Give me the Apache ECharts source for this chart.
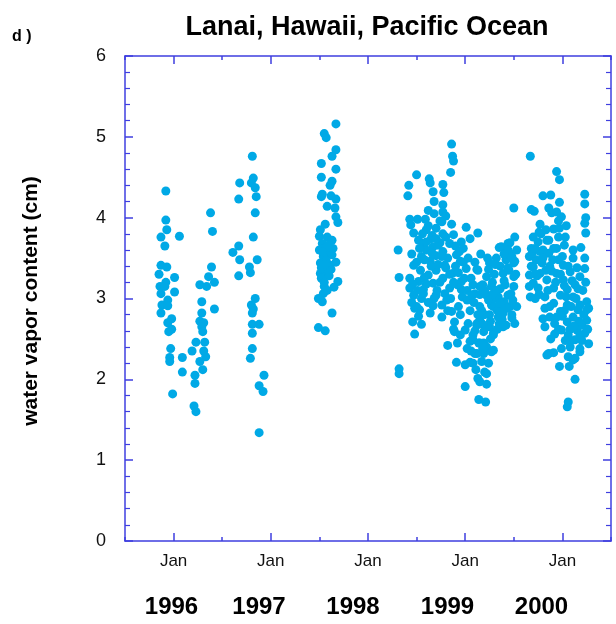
<!DOCTYPE html>
<html>
<head>
<meta charset="utf-8">
<script src="https://cdn.jsdelivr.net/npm/echarts@6/dist/echarts.min.js"></script>
<style>
html,body{margin:0;padding:0;background:#fff;}
#chart{width:616px;height:624px;}
</style>
</head>
<body>
<div id="chart"></div>
<script>
// ---- data: [decimal year, water vapor content (cm)] ----
const campaign1996a = [[1995.92,4.33],[1995.92,3.97],[1995.93,3.85],[1995.87,3.76],[1996.06,3.77],[1995.91,3.65],[1995.87,3.41],[1995.93,3.39],[1995.85,3.30],[1996.01,3.26],[1995.92,3.20],[1995.86,3.15],[1995.91,3.15],[1995.87,3.06],[1996.01,3.08],[1995.94,2.98],[1995.88,2.92],[1995.94,2.91],[1995.87,2.82],[1995.98,2.75],[1995.94,2.70],[1995.98,2.62],[1995.95,2.59],[1995.97,2.38],[1995.96,2.27],[1995.96,2.22],[1996.09,2.27],[1996.09,2.09],[1995.99,1.82]];
const campaign1996b = [[1996.38,4.06],[1996.40,3.83],[1996.39,3.39],[1996.36,3.27],[1996.42,3.20],[1996.27,3.17],[1996.34,3.15],[1996.29,2.96],[1996.42,2.87],[1996.29,2.82],[1996.27,2.72],[1996.31,2.70],[1996.29,2.65],[1996.30,2.59],[1996.23,2.46],[1996.32,2.46],[1996.19,2.35],[1996.31,2.35],[1996.33,2.28],[1996.27,2.22],[1996.30,2.12],[1996.22,2.05],[1996.22,1.95],[1996.21,1.67],[1996.23,1.60]];
const campaign1996c = [[1996.81,4.76],[1996.68,4.43],[1996.82,4.49],[1996.80,4.43],[1996.84,4.37],[1996.85,4.26],[1996.67,4.23],[1996.84,4.06],[1996.82,3.76],[1996.67,3.65],[1996.61,3.57],[1996.68,3.48],[1996.86,3.48],[1996.78,3.39],[1996.79,3.32],[1996.67,3.28],[1996.84,3.00],[1996.80,2.92],[1996.82,2.87],[1996.81,2.82],[1996.81,2.68],[1996.88,2.68],[1996.81,2.57],[1996.81,2.38],[1996.79,2.26],[1996.93,2.05],[1996.88,1.92],[1996.92,1.85],[1996.88,1.34]];
const campaign1997 = [[1997.67,5.16],[1997.55,5.04],[1997.57,4.99],[1997.67,4.84],[1997.63,4.76],[1997.52,4.67],[1997.67,4.60],[1997.52,4.50],[1997.63,4.45],[1997.61,4.40],[1997.53,4.29],[1997.52,4.26],[1997.62,4.27],[1997.67,4.23],[1997.58,4.14],[1997.66,4.12],[1997.67,4.01],[1997.69,3.94],[1997.56,3.92],[1997.51,3.85],[1997.50,3.77],[1997.58,3.76],[1997.63,3.72],[1997.53,3.68],[1997.64,3.62],[1997.50,3.60],[1997.58,3.56],[1997.54,3.52],[1997.63,3.54],[1997.67,3.45],[1997.51,3.44],[1997.61,3.41],[1997.56,3.35],[1997.51,3.31],[1997.59,3.30],[1997.52,3.25],[1997.69,3.21],[1997.65,3.14],[1997.55,3.15],[1997.54,3.06],[1997.49,3.00],[1997.53,2.96],[1997.63,2.82],[1997.49,2.64],[1997.56,2.60],[1997.54,3.62],[1997.57,3.47],[1997.52,3.38],[1997.60,3.28],[1997.55,3.20],[1997.58,3.10],[1997.53,3.58],[1997.62,3.36],[1997.56,3.42],[1997.59,3.66]];
const campaign1998 = [[1998.31,3.60],[1998.32,3.26],[1998.32,2.13],[1998.32,2.07],[1998.86,4.91],[1998.87,4.76],[1998.88,4.70],[1998.85,4.56],[1998.50,4.53],[1998.63,4.48],[1998.42,4.40],[1998.64,4.43],[1998.77,4.41],[1998.67,4.32],[1998.78,4.31],[1998.41,4.27],[1998.68,4.20],[1998.77,4.16],[1998.62,4.09],[1998.68,4.05],[1998.77,4.07],[1998.43,3.98],[1998.51,3.98],[1998.59,3.98],[1998.76,3.95],[1998.86,3.92],[1998.44,3.91],[1999.01,3.88],[1998.60,3.85],[1998.70,3.87],[1998.47,3.81],[1999.13,3.81],[1998.77,3.80],[1998.88,3.79],[1998.65,3.74],[1999.05,3.74],[1998.52,3.72],[1998.57,3.68],[1998.74,3.69],[1998.96,3.70],[1998.84,3.68],[1998.67,3.64],[1998.98,3.62],[1998.60,3.60],[1998.77,3.58],[1998.55,3.52],[1998.70,3.53],[1998.91,3.54],[1998.64,3.46],[1998.95,3.46],[1998.47,3.41],[1998.79,3.41],[1999.01,3.37],[1998.54,3.35],[1998.70,3.35],[1998.87,3.31],[1998.62,3.29],[1998.43,3.25],[1998.77,3.25],[1998.96,3.21],[1998.52,3.21],[1998.67,3.19],[1998.43,3.13],[1998.57,3.11],[1998.84,3.13],[1998.96,3.11],[1998.47,3.04],[1998.70,3.04],[1998.55,3.00],[1998.81,2.98],[1998.50,2.90],[1998.67,2.91],[1998.93,2.90],[1998.57,3.06],[1998.79,3.06],[1998.53,2.86],[1998.48,2.88],[1998.82,2.85],[1998.76,2.77],[1998.95,2.80],[1998.89,2.71],[1998.46,2.71],[1998.55,2.68],[1998.48,2.56],[1998.89,2.59],[1998.82,2.42],[1998.92,2.45],[1998.91,2.21],[1999.00,1.91],[1998.72,3.42],[1998.60,3.70],[1998.82,3.50],[1998.74,3.20],[1998.66,3.56],[1998.90,3.40],[1998.58,3.26],[1998.80,3.76],[1998.71,3.10],[1998.62,2.95],[1998.85,3.00],[1998.92,3.17],[1998.45,3.55],[1998.50,3.45],[1998.53,3.62],[1998.56,3.80],[1998.62,3.90],[1998.66,3.78],[1998.72,3.66],[1998.76,3.52],[1998.80,3.38],[1998.84,3.30],[1998.88,3.20],[1998.93,3.32],[1998.98,3.45],[1998.65,3.40],[1998.58,3.48],[1998.70,3.74],[1998.74,3.96],[1998.80,4.02],[1998.90,3.65],[1998.94,3.58],[1998.99,3.25],[1998.46,3.18],[1998.51,3.10],[1998.60,3.18],[1998.68,3.00],[1998.76,2.92],[1998.86,2.84],[1998.64,2.82],[1998.52,2.78],[1998.97,3.02],[1998.45,2.95],[1998.88,2.62],[1998.95,2.55],[1999.02,3.10],[1999.03,3.50]];
const campaign1999 = [[1999.00,2.61],[1999.08,2.55],[1999.03,2.69],[1999.12,2.69],[1999.22,2.65],[1999.29,2.57],[1999.05,2.47],[1999.14,2.45],[1999.02,2.38],[1999.22,2.40],[1999.10,2.32],[1999.19,2.32],[1999.27,2.34],[1999.00,2.18],[1999.08,2.20],[1999.17,2.22],[1999.24,2.20],[1999.22,2.07],[1999.13,2.01],[1999.15,1.97],[1999.22,1.94],[1999.14,1.75],[1999.21,1.72],[1999.05,2.21],[1999.15,2.45],[1999.29,2.55],[1999.19,2.59],[1999.15,2.73],[1999.25,2.80],[1999.35,2.69],[1999.42,2.67],[1999.51,2.69],[1999.39,2.82],[1999.48,2.80],[1999.29,2.90],[1999.46,2.90],[1999.13,3.35],[1999.25,3.44],[1999.37,3.64],[1999.44,3.68],[1999.46,3.56],[1999.32,3.50],[1999.50,3.44],[1999.22,3.27],[1999.39,3.31],[1999.50,3.27],[1999.15,3.15],[1999.27,3.15],[1999.41,3.17],[1999.50,3.15],[1999.10,3.06],[1999.22,3.04],[1999.34,3.02],[1999.44,3.04],[1999.53,2.90],[1999.15,2.90],[1999.27,2.92],[1999.39,2.88],[1999.20,2.80],[1999.34,2.77],[1999.48,2.76],[1999.12,2.67],[1999.25,2.65],[1999.39,2.65],[1999.08,2.49],[1999.19,2.45],[1999.29,2.36],[1999.12,2.32],[1999.20,2.09],[1999.51,3.76],[1999.46,3.69],[1999.44,3.60],[1999.50,4.12],[1999.12,3.36],[1999.51,3.46],[1999.35,3.63],[1999.18,3.17],[1999.31,3.00],[1999.08,3.17],[1999.07,3.04],[1999.30,3.30],[1999.36,3.40],[1999.42,3.48],[1999.28,3.20],[1999.40,2.96],[1999.17,2.85],[1999.33,2.85],[1999.45,3.35],[1999.24,3.36],[1999.05,2.85],[1999.10,2.60],[1999.36,3.12],[1999.02,2.98],[1999.06,3.25],[1999.10,3.45],[1999.16,3.55],[1999.20,3.10],[1999.24,2.98],[1999.28,3.05],[1999.32,3.10],[1999.36,2.94],[1999.40,3.22],[1999.44,3.38],[1999.48,3.52],[1999.52,3.30],[1999.47,3.06],[1999.43,2.88],[1999.38,2.74],[1999.33,2.62],[1999.26,2.72],[1999.18,2.68],[1999.13,2.80],[1999.09,2.95],[1999.31,3.42],[1999.40,3.55],[1999.23,3.50],[1999.15,3.05],[1999.26,2.50],[1999.18,2.38],[1999.11,2.12],[1999.06,2.35],[1999.49,2.98],[1999.53,3.60]];
const campaign2000 = [[1999.67,4.76],[1999.94,4.57],[1999.97,4.47],[1999.80,4.27],[1999.88,4.28],[2000.23,4.29],[1999.97,4.19],[2000.23,4.17],[1999.68,4.10],[1999.71,4.08],[1999.89,4.06],[1999.94,4.07],[1999.99,4.01],[2000.24,4.00],[2000.23,3.93],[1999.77,3.92],[1999.83,3.85],[1999.91,3.86],[1999.97,3.87],[2000.24,3.81],[1999.70,3.76],[1999.96,3.76],[2000.03,3.76],[1999.75,3.70],[1999.84,3.72],[2000.02,3.66],[1999.68,3.62],[1999.91,3.62],[2000.11,3.60],[2000.19,3.63],[1999.77,3.58],[1999.86,3.56],[2000.23,3.50],[1999.66,3.52],[2000.11,3.50],[1999.96,3.48],[1999.79,3.44],[2000.01,3.41],[1999.70,3.39],[1999.87,3.40],[2000.15,3.38],[2000.23,3.37],[1999.66,3.29],[1999.77,3.31],[1999.94,3.31],[2000.08,3.33],[2000.18,3.27],[1999.84,3.23],[2000.01,3.23],[1999.70,3.19],[1999.66,3.15],[2000.13,3.17],[1999.75,3.13],[1999.91,3.13],[2000.05,3.11],[1999.72,3.00],[1999.82,3.02],[1999.98,3.04],[2000.11,3.02],[2000.25,2.96],[1999.91,2.94],[2000.05,2.92],[2000.27,2.88],[1999.82,2.88],[1999.98,2.84],[2000.16,2.86],[1999.87,2.77],[2000.11,2.77],[2000.25,2.73],[2000.05,2.71],[1999.92,2.69],[2000.20,2.67],[1999.82,2.65],[1999.99,2.61],[2000.15,2.61],[2000.23,2.57],[1999.92,2.56],[2000.06,2.55],[2000.13,2.49],[2000.27,2.44],[1999.99,2.38],[2000.08,2.40],[1999.86,2.32],[1999.91,2.33],[2000.18,2.34],[2000.06,2.28],[2000.13,2.26],[1999.97,2.16],[2000.07,2.16],[2000.13,2.00],[2000.06,1.72],[2000.05,1.66],[1999.84,2.30],[2000.08,2.47],[2000.18,2.38],[2000.11,2.24],[2000.18,2.55],[2000.25,2.86],[1999.94,2.77],[1999.87,2.90],[1999.73,3.48],[1999.80,3.60],[1999.89,3.34],[1999.93,3.20],[2000.04,3.02],[2000.09,2.90],[1999.74,3.28],[1999.85,3.10],[2000.00,3.52],[2000.16,3.12],[2000.02,2.85],[1999.78,3.80],[1999.69,3.56],[1999.68,3.40],[1999.72,3.62],[1999.76,3.82],[1999.80,3.50],[1999.83,3.35],[1999.86,3.72],[1999.90,3.48],[1999.94,3.62],[1999.98,3.30],[2000.02,3.16],[2000.06,3.40],[2000.10,3.22],[2000.14,3.00],[2000.18,2.92],[2000.21,3.10],[2000.24,3.20],[2000.22,2.80],[2000.17,2.72],[2000.12,2.66],[2000.08,2.62],[2000.03,2.48],[1999.96,2.62],[1999.88,2.50],[1999.80,2.75],[1999.76,3.05],[1999.72,3.30],[1999.67,3.02],[1999.96,3.96],[2000.04,3.90],[1999.86,4.12],[2000.00,2.78],[2000.20,2.48],[2000.26,2.62]];

const janTicks = [1996, 1997, 1998, 1999, 2000];
const julTicks = [1995.5, 1996.5, 1997.5, 1998.5, 1999.5, 2000.5];
const janLabel = 'Jan';
const yearLabels = ['1996', '1997', '1998', '1999', '2000'];
const titleText = 'Lanai, Hawaii, Pacific Ocean';
const panelLabel = 'd )';
const yTitle = 'water vapor content (cm)';

const allPoints = [].concat(campaign1996a, campaign1996b, campaign1996c, campaign1997, campaign1998, campaign1999, campaign2000);

const axisColor = '#3f3fe0';
const font = 'Liberation Sans, Arial, Helvetica, sans-serif';
const xBase = {type: 'value', min: 1995.5, max: 2000.5, interval: 0.5, splitLine: {show: false}};
const yearX = [171.5, 259, 353, 447.5, 541.5];

const chart = echarts.init(document.getElementById('chart'), null, {renderer: 'canvas'});
chart.setOption({
  animation: false,
  backgroundColor: '#ffffff',
  grid: {left: 125, top: 56, width: 486, height: 485, outerBoundsMode: 'none'},
  title: {
    text: titleText, left: 362, top: 9, textAlign: 'center',
    textStyle: {fontFamily: font, fontWeight: 'bold', fontSize: 27, color: '#000'}
  },
  xAxis: [
    Object.assign({}, xBase, {
      position: 'bottom',
      axisLine: {show: true, onZero: false, lineStyle: {color: axisColor, width: 1.5}},
      axisTick: {show: true, inside: true, length: 8, customValues: janTicks, lineStyle: {color: axisColor, width: 1.5}},
      axisLabel: {show: true, customValues: janTicks, formatter: () => janLabel, margin: 12, fontFamily: font, fontSize: 17, color: '#111'}
    }),
    Object.assign({}, xBase, {
      position: 'bottom',
      axisLine: {show: false, onZero: false},
      axisTick: {show: true, inside: true, length: 4, customValues: julTicks, lineStyle: {color: axisColor, width: 1.5}},
      axisLabel: {show: false}
    }),
    Object.assign({}, xBase, {
      position: 'top',
      axisLine: {show: true, onZero: false, lineStyle: {color: axisColor, width: 1.5}},
      axisTick: {show: true, inside: true, length: 8, customValues: janTicks, lineStyle: {color: axisColor, width: 1.5}},
      axisLabel: {show: false}
    }),
    Object.assign({}, xBase, {
      position: 'top',
      axisLine: {show: false, onZero: false},
      axisTick: {show: true, inside: true, length: 4, customValues: julTicks, lineStyle: {color: axisColor, width: 1.5}},
      axisLabel: {show: false}
    })
  ],
  yAxis: [
    {
      type: 'value', min: 0, max: 6, interval: 1, position: 'left',
      axisLine: {show: true, onZero: false, lineStyle: {color: axisColor, width: 1.5}},
      axisTick: {show: true, inside: true, length: 8, lineStyle: {color: axisColor, width: 1.5}},
      minorTick: {show: true, splitNumber: 5, length: 5, lineStyle: {color: axisColor, width: 1.2}},
      axisLabel: {show: true, margin: 19, fontFamily: font, fontSize: 18, color: '#111'},
      splitLine: {show: false}, minorSplitLine: {show: false}
    },
    {
      type: 'value', min: 0, max: 6, interval: 1, position: 'right',
      axisLine: {show: true, onZero: false, lineStyle: {color: axisColor, width: 1.5}},
      axisTick: {show: true, inside: true, length: 8, lineStyle: {color: axisColor, width: 1.5}},
      minorTick: {show: true, splitNumber: 5, length: 5, lineStyle: {color: axisColor, width: 1.2}},
      axisLabel: {show: false},
      splitLine: {show: false}, minorSplitLine: {show: false}
    }
  ],
  graphic: [
    {type: 'text', left: 12, top: 29, style: {text: panelLabel, font: 'bold 16px ' + font, fill: '#000'}},
    {type: 'text', x: 31, y: 301, rotation: Math.PI / 2,
      style: {text: yTitle, font: 'bold 21px ' + font, fill: '#000', align: 'center', verticalAlign: 'middle'}}
  ].concat(yearLabels.map((t, i) => ({
    type: 'text', x: yearX[i], y: 607,
    style: {text: t, font: 'bold 24px ' + font, fill: '#000', align: 'center', verticalAlign: 'middle'}
  }))),
  series: [{
    type: 'scatter',
    xAxisIndex: 0, yAxisIndex: 0,
    data: allPoints,
    symbol: 'circle', symbolSize: 9,
    itemStyle: {color: '#00a9e6', opacity: 1},
    emphasis: {disabled: true}
  }]
});
</script>
</body>
</html>
